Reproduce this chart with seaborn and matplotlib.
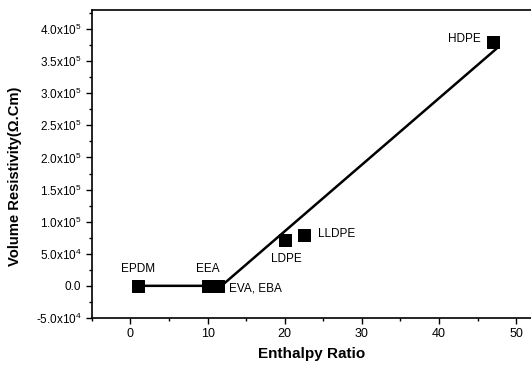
import seaborn as sns
import pandas as pd
import matplotlib
matplotlib.use("Agg")
import matplotlib.pyplot as plt
from matplotlib.ticker import MultipleLocator, FuncFormatter

# data
materials = ["EPDM", "EEA", "EVA, EBA", "LDPE", "LLDPE", "HDPE"]
enthalpy_ratio = [1.0, 10.0, 11.3, 20.0, 22.5, 47.0]
resistivity = [0.0, 0.0, 0.0, 7.2e4, 7.9e4, 3.8e5]

# guide line through the points
line_x = [1.0, 10.0, 11.8, 47.5]
line_y = [0.0, 0.0, 0.0, 3.7e5]

sns.set_style("ticks")
plt.rcParams['font.family'] = ['Liberation Sans', 'DejaVu Sans']
plt.rcParams['mathtext.fontset'] = 'custom'
plt.rcParams['mathtext.rm'] = 'Liberation Sans'
plt.rcParams['mathtext.it'] = 'Liberation Sans'
plt.rcParams['text.color'] = 'black'
plt.rcParams['axes.labelcolor'] = 'black'
plt.rcParams['xtick.color'] = 'black'
plt.rcParams['ytick.color'] = 'black'

df = pd.DataFrame({"material": materials, "x": enthalpy_ratio, "y": resistivity})
line_df = pd.DataFrame({"x": line_x, "y": line_y})

fig = plt.figure(figsize=(5.31, 3.65), dpi=100)
ax = fig.add_axes([0.173, 0.129, 0.828, 0.844])

sns.lineplot(data=line_df, x="x", y="y", sort=False, color="black", lw=1.8, ax=ax)
sns.scatterplot(data=df, x="x", y="y", marker="s", s=80, color="black",
                edgecolor="black", ax=ax, zorder=3)

# label offsets (points) and alignment
label_style = {
    "EPDM": ((0, 12), "center"),
    "EEA": ((0, 12), "center"),
    "EVA, EBA": ((8, -2), "left"),
    "LDPE": ((1, -14), "center"),
    "LLDPE": ((10, 1), "left"),
    "HDPE": ((-9, 2), "right"),
}
for m, xv, yv in zip(materials, enthalpy_ratio, resistivity):
    off, ha = label_style[m]
    ax.annotate(m, (xv, yv), xytext=off, textcoords="offset points",
                ha=ha, va="center", fontsize=8.5, color="black")

ax.set_xlim(-5, 52)
ax.set_ylim(-5e4, 4.3e5)
ax.xaxis.set_major_locator(MultipleLocator(10))
ax.xaxis.set_minor_locator(MultipleLocator(5))
ax.yaxis.set_major_locator(MultipleLocator(5e4))
ax.yaxis.set_minor_locator(MultipleLocator(2.5e4))


def sci_fmt(v, pos):
    if abs(v) < 1e-9:
        return "0.0"
    exp = 0
    m = abs(v)
    while m >= 10:
        m /= 10
        exp += 1
    sign = "-" if v < 0 else ""
    return f"{sign}{m:.1f}x10$^{{{exp}}}$"


ax.yaxis.set_major_formatter(FuncFormatter(sci_fmt))
ax.tick_params(which="major", direction="out", length=4, width=1, labelsize=8.5,
               colors="black", labelcolor="black")
ax.tick_params(which="minor", direction="out", length=2.5, width=1, colors="black")
ax.tick_params(axis="x", labelsize=9)

for s in ax.spines.values():
    s.set_linewidth(1.2)
    s.set_color("black")

ax.set_xlabel("Enthalpy Ratio", fontsize=11, fontweight="bold", labelpad=5, color="black")
ax.set_ylabel("Volume Resistivity(Ω.Cm)", fontsize=10.6, fontweight="bold", color="black")
ax.yaxis.set_label_coords(-0.16, 0.46)

fig.savefig("out.png", dpi=100)
